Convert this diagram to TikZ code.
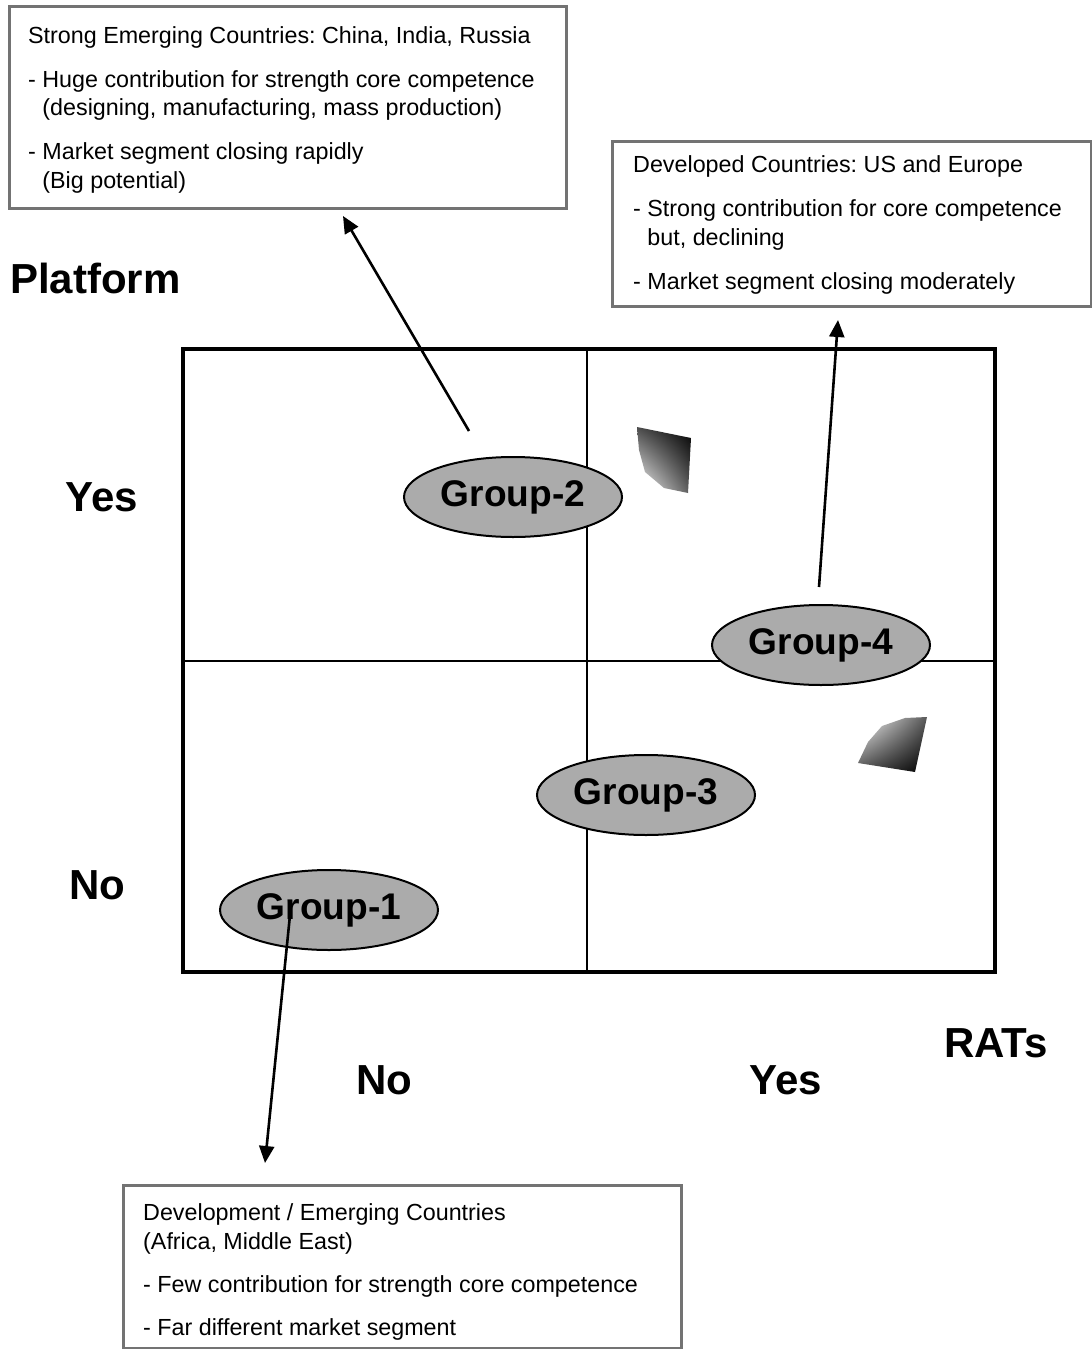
\documentclass[tikz,border=0pt]{standalone}
\usepackage{fontspec}
\setmainfont{Liberation Sans}
\usetikzlibrary{arrows.meta,shapes.geometric,shadings}
\frenchspacing

\begin{document}
\begin{tikzpicture}[x=1pt,y=-1pt,
  infobox/.style={draw=black!55, line width=3pt, fill=white, inner sep=0pt, anchor=north west},
  infotext/.style={anchor=north west, align=left, inner sep=0pt, font=\fontsize{23.3}{28.4}\selectfont},
  axislabel/.style={font=\fontsize{42}{48}\selectfont\bfseries, inner sep=0pt},
  grp/.style={ellipse, draw=black, line width=2pt, fill=black!33, minimum width=218pt,
              minimum height=80pt, inner sep=0pt, font=\fontsize{37.1}{42}\selectfont\bfseries},
  pointer/.style={line width=2.6pt, -{Triangle[length=17pt,width=15pt]}},
]
\fill[white] (0,0) rectangle (1092,1349);
\useasboundingbox (0,0) rectangle (1092,1349);

% quadrant frame and dividers
\draw[line width=4pt] (183,349) rectangle (995,972);
\draw[line width=2pt] (587,349) -- (587,972);
\draw[line width=2pt] (183,661) -- (995,661);

% axis labels
\node[axislabel, anchor=west] (platform) at (10,278) {Platform};
\node[axislabel] (yesL) at (102,497) {Yes};
\node[axislabel] (noL) at (97,885) {No};
\node[axislabel] (noB) at (384,1080) {No};
\node[axislabel] (yesB) at (786,1080) {Yes};
\node[axislabel] (rats) at (996,1043) {RATs};

% groups
\node[grp] (g2) at (513,497) {Group-2};
\node[grp] (g4) at (821,645) {Group-4};
\node[grp] (g3) at (646,795) {Group-3};
\node[grp] (g1) at (329,910) {Group-1};

% trend arrowheads
\shade[lower left=white, upper right=black, upper left=black!70, lower right=black!65]
  (637,427) -- (691,438) -- (688,493) -- (664,488) -- (645,472) -- (639,450) -- cycle;
\shade[upper left=white, lower right=black, upper right=black!65, lower left=black!70]
  (858,763) -- (868,742) -- (882,726) -- (905,718) -- (927,717) -- (915,772) -- cycle;

% information boxes
\node[infobox, minimum width=557pt, minimum height=202pt] (b1) at (8,5) {};
\node[infotext] (t1) at (28,26) {Strong Emerging Countries: China, India, Russia\\[15.8pt]
- Huge contribution for strength core competence\\
\hphantom{- }(designing, manufacturing, mass production)\\[15.8pt]
- Market segment closing rapidly\\
\hphantom{- }(Big potential)};

\node[infobox, minimum width=479pt, minimum height=165pt] (b2) at (611,140) {};
\node[infotext] (t2) at (633,155.5) {Developed Countries: US and Europe\\[15.8pt]
- Strong contribution for core competence\\
\hphantom{- }but, declining\\[15.8pt]
- Market segment closing moderately};

\node[infobox, minimum width=558pt, minimum height=163pt] (b3) at (122,1184) {};
\node[infotext] (t3) at (143,1203.5) {Development / Emerging Countries\\
(Africa, Middle East)\\[14.6pt]
- Few contribution for strength core competence\\[14.6pt]
- Far different market segment};

% pointers from groups to their boxes
\coordinate (p2s) at (469,431);
\coordinate (p2e) at (343,216);
\coordinate (p4s) at (819,587);
\coordinate (p4e) at (838,320);
\coordinate (p1s) at (290,915);
\coordinate (p1e) at (265,1163);
\draw[pointer] (p2s) -- (p2e);
\draw[pointer] (p4s) -- (p4e);
\draw[pointer] (p1s) -- (p1e);
\end{tikzpicture}
\end{document}
